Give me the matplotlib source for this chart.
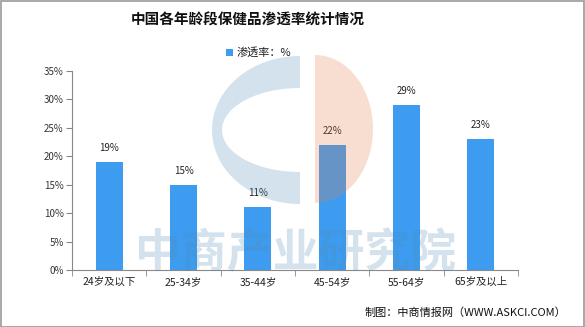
import matplotlib
matplotlib.use("Agg")
import matplotlib.pyplot as plt
from matplotlib.patches import Rectangle, Ellipse, Wedge
import numpy as np

plt.rcParams['font.family'] = ['Noto Sans CJK SC', 'DejaVu Sans']

categories = ["24岁及以下", "25-34岁", "35-44岁", "45-54岁", "55-64岁", "65岁及以上"]
values = [19, 15, 11, 22, 29, 23]
yticks = [0, 5, 10, 15, 20, 25, 30, 35]
title = "中国各年龄段保健品渗透率统计情况"
legend_label = "渗透率：%"
source = "制图：中商情报网（WWW.ASKCI.COM）"
watermark = "中商产业研究院"

W, H = 585, 327
fig = plt.figure(figsize=(W/100, H/100), dpi=100)
ax = fig.add_axes([72/W, 1-270/H, (518-72)/W, (270-71)/H])

bar_color = "#3d9cf0"
x = np.arange(len(categories))
ax.bar(x, values, width=0.36, color=bar_color, zorder=2)
for xi, v in zip(x, values):
    ax.text(xi, v + 1.6, f"{v}%", ha="center", va="bottom", fontsize=7, color="#222222")

ax.set_xlim(-0.5, len(categories) - 0.5)
ax.set_ylim(0, 35)
ax.set_yticks(yticks)
ax.set_yticklabels([f"{t}%" for t in yticks], fontsize=7, color="#333333")
ax.set_xticks(x)
ax.set_xticklabels(categories, fontsize=7.5, color="#222222")
ax.tick_params(axis='x', length=0, pad=5)
ax.set_xticks(np.arange(len(categories) + 1) - 0.5, minor=True)
ax.tick_params(axis='x', which='minor', length=4, color="#888888")
ax.tick_params(axis='y', length=4, color="#888888", pad=2)
for s in ["top", "right"]:
    ax.spines[s].set_visible(False)
for s in ["left", "bottom"]:
    ax.spines[s].set_color("#888888")
    ax.spines[s].set_linewidth(0.8)

# Watermark (figure pixel coordinates)
def fx(px):
    return px / W
def fy(py):
    return 1 - py / H

wm_blue = (80/255, 140/255, 180/255, 0.25)
wm_orange = (231/255, 127/255, 75/255, 0.25)
# blue C shape: outer half ellipse minus inner half ellipse, approximated by polygon
t = np.linspace(np.pi/2, 3*np.pi/2, 100)
cx, cy = 300, 130
outer = np.column_stack([cx + 88*np.cos(t), cy - 74*np.sin(t)])
inner = np.column_stack([cx + 78*np.cos(t[::-1]), cy - 42*np.sin(t[::-1])])
poly = np.vstack([outer, inner])
fig.patches.append(plt.Polygon(np.column_stack([fx(poly[:, 0]), fy(poly[:, 1])]),
                               closed=True, transform=fig.transFigure,
                               facecolor=wm_blue, edgecolor='none', zorder=5))
t2 = np.linspace(-np.pi/2, np.pi/2, 100)
ocx, ocy = 315, 129
orange = np.column_stack([ocx + 58*np.cos(t2), ocy - 74*np.sin(t2)])
fig.patches.append(plt.Polygon(np.column_stack([fx(orange[:, 0]), fy(orange[:, 1])]),
                               closed=True, transform=fig.transFigure,
                               facecolor=wm_orange, edgecolor='none', zorder=5))
fig.text(fx(296), fy(254), watermark, ha="center", va="center", fontsize=33,
         fontweight="bold", color=wm_blue, zorder=6)

# Title, legend, source
fig.text(fx(248), fy(20), title, ha="center", va="center", fontsize=10.5,
         fontweight="bold", color="#111111")
fig.patches.append(Rectangle((fx(226), fy(56)), 7/W, 7/H, transform=fig.transFigure,
                             facecolor=bar_color, edgecolor='none'))
fig.text(fx(237), fy(52.5), legend_label, ha="left", va="center", fontsize=8, color="#222222")
fig.text(fx(566), fy(313), source, ha="right", va="center", fontsize=8, color="#111111")

# border
fig.patches.append(Rectangle((0.5/W, 0.5/H), 1 - 1.5/W, 1 - 1.5/H, transform=fig.transFigure,
                             facecolor='none', edgecolor="#999999", linewidth=1.2))

fig.savefig("out.png", dpi=100)
